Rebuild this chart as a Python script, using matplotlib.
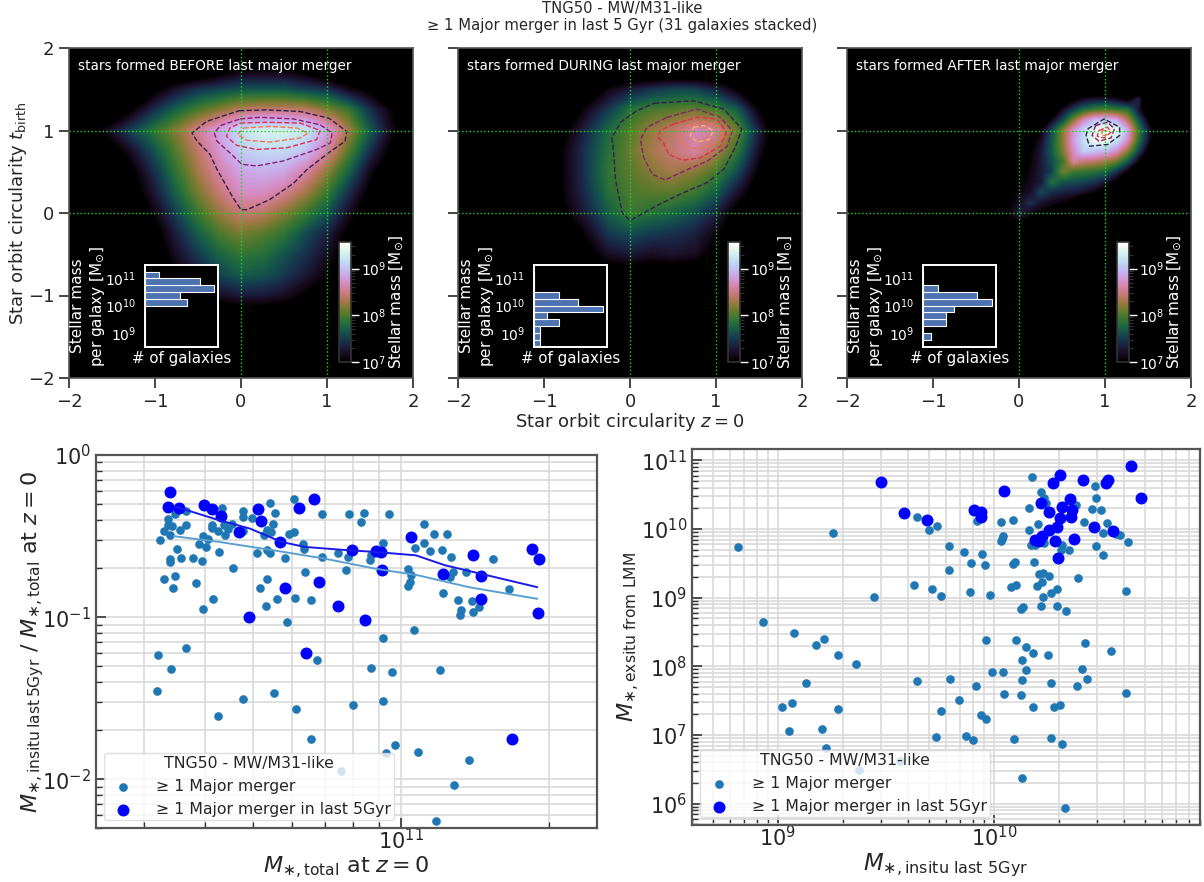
import numpy as np
import matplotlib
matplotlib.use("Agg")
import matplotlib.pyplot as plt
from matplotlib.colors import Normalize
from matplotlib.ticker import NullLocator

W, H = 1204, 882

# log10 stellar mass on a regular grid, top row y=2, bottom row y=-2, x from -2 to 2
before_grid = [
    [6.5]*17,
    [6.5,6.5,6.5,6.5,6.5,6.5,6.6,6.8,7.0,7.0,7.0,6.85,6.6,6.5,6.5,6.5,6.5],
    [6.5,6.5,6.5,6.5,6.95,7.25,7.45,7.55,7.65,7.65,7.65,7.55,7.45,7.15,6.95,6.5,6.5],
    [6.5,6.5,6.6,7.05,7.45,7.75,8.0,8.2,8.4,8.45,8.45,8.4,8.2,7.95,7.45,7.05,6.6],
    [6.5,6.85,7.25,7.6,7.9,8.2,8.55,8.85,9.2,9.35,9.35,9.25,8.85,8.3,7.7,7.15,6.8],
    [6.5,6.5,6.85,7.25,7.65,8.05,8.4,8.75,9.05,9.15,9.15,9.0,8.6,8.05,7.45,6.95,6.5],
    [6.5,6.5,6.5,7.0,7.45,7.9,8.3,8.6,8.85,8.9,8.85,8.6,8.25,7.75,7.15,6.7,6.5],
    [6.5,6.5,6.5,6.85,7.3,7.75,8.15,8.45,8.7,8.7,8.55,8.3,7.95,7.45,6.95,6.5,6.5],
    [6.5,6.5,6.5,6.7,7.1,7.55,7.95,8.25,8.45,8.4,8.2,7.95,7.65,7.2,6.75,6.5,6.5],
    [6.5,6.5,6.5,6.5,6.9,7.35,7.7,8.0,8.15,8.05,7.9,7.6,7.35,6.95,6.6,6.5,6.5],
    [6.5,6.5,6.5,6.5,6.8,7.2,7.5,7.75,7.9,7.85,7.65,7.45,7.2,6.85,6.5,6.5,6.5],
    [6.5,6.5,6.5,6.5,6.6,7.05,7.3,7.55,7.7,7.65,7.5,7.3,7.05,6.7,6.5,6.5,6.5],
    [6.5,6.5,6.5,6.5,6.5,6.8,7.0,7.2,7.3,7.3,7.2,7.0,6.8,6.5,6.5,6.5,6.5],
    [6.5,6.5,6.5,6.5,6.5,6.5,6.6,6.7,6.75,6.75,6.7,6.55,6.5,6.5,6.5,6.5,6.5],
    [6.5]*17,
    [6.5]*17,
    [6.5]*17,
]
during_grid = [
    [6.5]*17,
    [6.5]*17,
    [6.5,6.5,6.5,6.5,6.5,6.5,6.7,7.1,7.3,7.45,7.55,7.55,7.35,7.0,6.5,6.5,6.5],
    [6.5,6.5,6.5,6.5,6.5,6.7,7.15,7.5,7.85,8.0,8.05,8.1,8.0,7.7,7.05,6.5,6.5],
    [6.5,6.5,6.5,6.5,6.5,7.0,7.4,7.8,8.05,8.25,8.4,8.65,8.6,8.1,7.35,6.7,6.5],
    [6.5,6.5,6.5,6.5,6.7,7.1,7.5,7.85,8.1,8.3,8.45,8.6,8.35,7.9,7.2,6.6,6.5],
    [6.5,6.5,6.5,6.5,6.7,7.1,7.5,7.9,8.05,8.2,8.3,8.2,8.0,7.6,7.0,6.5,6.5],
    [6.5,6.5,6.5,6.5,6.7,7.1,7.45,7.85,8.0,8.05,8.05,7.95,7.7,7.25,6.8,6.5,6.5],
    [6.5,6.5,6.5,6.5,6.5,7.0,7.35,7.7,7.95,7.85,7.75,7.6,7.35,6.9,6.5,6.5,6.5],
    [6.5,6.5,6.5,6.5,6.5,6.75,7.1,7.5,7.6,7.5,7.45,7.35,7.1,6.7,6.5,6.5,6.5],
    [6.5,6.5,6.5,6.5,6.5,6.5,6.9,7.2,7.3,7.2,7.25,7.2,6.9,6.5,6.5,6.5,6.5],
    [6.5,6.5,6.5,6.5,6.5,6.5,6.5,6.75,6.85,6.75,6.75,6.75,6.5,6.5,6.5,6.5,6.5],
    [6.5]*17,
    [6.5]*17,
    [6.5]*17,
    [6.5]*17,
    [6.5]*17,
]
# finer patch for the compact panel: y from 1.5 to -0.25, x from -0.5 to 1.75, step 0.125
after_grid = [
    [6.5]*19,
    [6.5,6.5,6.5,6.5,6.5,6.5,6.5,6.5,6.6,7.0,7.2,7.3,7.3,7.2,7.0,7.4,6.5,6.5,6.5],
    [6.5,6.5,6.5,6.5,6.5,6.5,6.5,6.7,7.2,7.55,7.85,8.0,8.05,7.95,7.9,7.3,6.6,6.5,6.5],
    [6.5,6.5,6.5,6.5,6.5,6.5,6.6,7.15,7.6,8.2,8.7,9.0,9.05,8.9,8.4,7.7,7.0,6.5,6.5],
    [6.5,6.5,6.5,6.5,6.5,6.5,7.1,7.6,8.2,8.75,9.15,9.5,9.6,9.5,8.9,8.0,7.3,6.6,6.5],
    [6.5,6.5,6.5,6.5,6.5,6.9,7.2,7.7,8.2,8.8,9.2,9.5,9.5,9.2,8.7,7.9,7.2,6.5,6.5],
    [6.5,6.5,6.5,6.5,6.5,7.0,7.3,7.7,8.15,8.7,9.1,9.0,8.95,8.7,8.25,7.6,6.9,6.5,6.5],
    [6.5,6.5,6.5,6.5,6.8,7.05,7.3,7.6,7.95,8.6,8.45,8.4,8.3,8.1,7.7,7.1,6.5,6.5,6.5],
    [6.5,6.5,6.5,6.5,6.9,7.1,7.3,7.55,8.15,7.95,7.9,7.85,7.75,7.45,7.05,6.5,6.5,6.5,6.5],
    [6.5,6.5,6.5,6.8,7.0,7.15,7.3,7.85,7.65,7.6,7.55,7.45,7.25,6.95,6.5,6.5,6.5,6.5,6.5],
    [6.5,6.5,6.5,6.9,7.1,7.2,7.6,7.4,7.35,7.3,7.2,7.05,6.85,6.5,6.5,6.5,6.5,6.5,6.5],
    [6.5,6.5,6.8,7.0,7.2,7.45,7.25,7.15,7.05,6.9,6.6,6.5,6.5,6.5,6.5,6.5,6.5,6.5,6.5],
    [6.5,6.5,6.85,7.05,7.35,7.15,7.0,6.85,6.5,6.5,6.5,6.5,6.5,6.5,6.5,6.5,6.5,6.5,6.5],
    [6.5,6.5,6.5,6.9,7.0,6.85,6.5,6.5,6.5,6.5,6.5,6.5,6.5,6.5,6.5,6.5,6.5,6.5,6.5],
    [6.5]*19,
]

# contour levels, outermost first
before_contours = [
    ([-.02,.30,.69,1.02,1.23,1.21,1.02,.77,.61,.33,.07,0,-.09,-.28,-.36,-.51,-.57,-.40,-.17,-.02],
     [1.24,1.25,1.23,1.15,.99,.87,.73,.53,.36,.16,.04,.04,.18,.53,.71,.87,.97,1.11,1.19,1.24]),
    ([-.01,.22,.61,.92,1.06,1.04,.88,.49,.18,.01,-.13,-.28,-.31,-.24,-.01],
     [1.14,1.16,1.14,1.07,.97,.85,.77,.63,.57,.59,.73,.87,.97,1.06,1.14]),
    ([-.01,.30,.69,.92,.88,.53,.18,-.05,-.17,-.13,-.01],
     [1.09,1.10,1.09,1.0,.89,.79,.77,.82,.93,1.03,1.09]),
    ([.03,.34,.65,.78,.69,.34,.07,-.04,.03],
     [1.03,1.05,1.03,.97,.91,.86,.88,.95,1.03]),
]
during_contours = [
    ([.28,.74,1.09,1.30,1.23,1.09,.90,.63,.35,.16,0,-.09,-.17,-.19,-.21,-.11,.08,.28],
     [1.33,1.36,1.26,1.02,.81,.53,.37,.25,.11,0,-.09,0,.41,.73,.91,1.10,1.24,1.33]),
    ([.43,.78,1.05,1.19,1.13,.90,.63,.41,.26,.16,.12,.20,.43],
     [1.16,1.26,1.16,1.00,.81,.63,.51,.40,.47,.67,.89,1.04,1.16]),
    ([.51,.78,1.01,1.12,1.05,.82,.61,.45,.39,.33,.35,.51],
     [1.08,1.16,1.14,.98,.81,.67,.64,.71,.85,.91,1.00,1.08]),
    ([.66,.86,1.03,1.09,.97,.78,.63,.57,.66],
     [1.06,1.11,1.04,.94,.83,.78,.81,.94,1.06]),
    ([.74,.86,.97,.92,.78,.70,.74],
     [1.04,1.06,1.00,.89,.86,.94,1.04]),
]
after_contours = [
    ([.80,.99,1.17,1.17,1.03,.82,.78,.80], [1.02,1.14,1.04,.94,.83,.81,.94,1.02]),
    ([.89,1.03,1.11,1.07,.93,.85,.89], [1.06,1.10,1.02,.91,.87,.94,1.06]),
    ([.93,1.03,1.07,.99,.91,.93], [1.00,1.04,.98,.91,.93,1.00]),
    ([.97,1.02,1.01,.96,.97], [1.0,1.0,.94,.94,1.0]),
]
contour_colors = ["#33204f", "#8c1f6e", "#e0304f", "#f4734f", "#fbb25c"]

# galaxies per log10 mass bin
hist_edges = [8.5,8.75,9.0,9.25,9.5,9.75,10.0,10.25,10.5,10.75,11.0,11.25]
before_counts = [0,0,0,0,0,0,6,5,10,8,2]
during_counts = [1,1,1,4,2,11,7,4,0,0,0]
after_counts = [0,1,0,3,3,4,9,7,2,0,0]

panel_titles = ["stars formed BEFORE last major merger", "stars formed DURING last major merger",
                "stars formed AFTER last major merger"]

# log10 total mass and log10 mass ratio
total_all = [10.505,10.507,10.533,10.564,10.678,10.629,10.741,10.787,10.816,10.830,10.903,10.939,10.981,10.964,
    10.987,10.970,11.035,11.080,11.027,10.964,10.878,11.107,11.138,11.071,10.768,10.597,10.618,10.537,10.518,10.541,
    10.584,10.659,10.713,10.727,10.725,10.747,10.785,10.817,10.804,10.888,10.764,10.734,10.728,10.707,10.631,10.596,
    10.578,10.552,10.530,10.531,10.545,10.510,10.518,10.530,10.550,10.564,10.534,10.526,10.527,10.541,10.563,10.637,
    10.678,10.678,10.697,10.733,10.744,10.739,10.783,10.840,10.894,10.924,10.919,10.975,10.773,10.782,10.735,10.722,
    10.728,10.678,10.657,10.649,10.643,10.640,10.629,10.615,10.615,10.608,10.598,10.603,10.589,10.800,10.803,10.839,
    10.871,10.892,10.937,10.939,10.964,11.047,11.067,11.094,11.047,11.029,11.059,11.084,11.101,11.187,11.013,11.020,
    11.018,11.013,11.132,11.105,11.099,11.085,11.115,11.143,11.220,11.121,11.119,11.146,11.158]
ratio_all = [-1.456,-1.231,-1.320,-1.190,-1.503,-1.610,-1.468,-1.567,-1.755,-1.266,-1.544,-1.311,-1.338,-1.518,
    -1.786,-1.841,-1.835,-1.326,-1.078,-1.128,-1.949,-2.037,-1.883,-2.260,-1.031,-.953,-.889,-.823,-.765,-.749,
    -.792,-.695,-.819,-.767,-.932,-.889,-.880,-.895,-.724,-.707,-.635,-.604,-.584,-.606,-.598,-.656,
    -.633,-.637,-.643,-.660,-.579,-.526,-.470,-.491,-.462,-.433,-.435,-.429,-.396,-.361,-.346,-.330,
    -.344,-.384,-.388,-.299,-.355,-.425,-.274,-.365,-.367,-.359,-.412,-.365,-.487,-.478,-.472,-.495,
    -.464,-.468,-.423,-.454,-.495,-.433,-.466,-.450,-.429,-.520,-.501,-.565,-.546,-.548,-.577,-.627,
    -.604,-.627,-.645,-.614,-.542,-.425,-.489,-.485,-.544,-.575,-.592,-.586,-.627,-.643,-.705,-.738,
    -.784,-.810,-.724,-.724,-.753,-.852,-.897,-.903,-.829,-.957,-.986,-.971,-.936]
total_recent = [10.530,10.526,10.549,10.599,10.616,10.635,10.709,10.716,10.671,10.754,10.793,10.824,10.900,10.949,
    10.960,10.961,10.834,10.764,10.872,10.690,10.926,10.807,11.021,11.146,11.086,11.162,11.162,11.265,11.280,11.278,11.226]
ratio_recent = [-.229,-.320,-.326,-.311,-.332,-.377,-.334,-.408,-.476,-.538,-.330,-.272,-.586,-.592,
    -.596,-.707,-.786,-.823,-.932,-1.000,-1.017,-1.223,-.503,-.619,-.736,-.749,-.887,-.581,-.643,-.975,-1.749]

median_recent_x = [10.543,10.630,10.693,10.757,10.804,10.876,10.947,11.030,11.089,11.161,11.276]
median_recent_y = [-.320,-.402,-.454,-.536,-.567,-.584,-.598,-.619,-.680,-.732,-.815]
median_all_x = [10.539,10.630,10.741,10.844,10.947,11.034,11.137,11.276]
median_all_y = [-.501,-.536,-.588,-.639,-.701,-.742,-.815,-.887]

# log10 insitu mass formed in last 5 Gyr and log10 exsitu mass from the last major merger
insitu_all = [8.816,9.256,8.933,9.074,9.214,9.178,9.277,9.360,9.129,9.021,9.064,9.276,9.051,9.203,9.223,9.375,9.567,
    9.447,9.629,9.645,9.698,9.737,9.714,9.756,9.645,9.795,9.838,9.915,9.755,9.940,9.965,9.730,9.869,9.905,9.793,
    9.793,9.861,9.896,9.947,9.959,9.889,9.982,9.965,9.990,10.041,10.048,10.127,10.131,10.147,10.131,10.149,10.101,
    10.180,10.251,10.265,10.179,10.278,10.308,10.387,10.433,10.408,10.421,10.543,10.610,10.094,10.265,10.315,10.129,
    10.327,9.922,10.032,10.088,10.041,10.037,10.035,10.090,10.096,10.080,10.101,10.198,10.223,10.187,10.210,10.226,
    10.256,10.225,10.265,10.292,10.216,10.293,10.334,10.126,10.133,10.391,10.610,10.346,10.475,10.507,10.619,10.505,
    10.564,10.583,10.525,10.419,10.498,10.454,10.472,10.467,10.380,10.175,10.216,10.233,10.239,10.161,10.203,10.164,
    10.170,10.191,10.233,10.313,10.309]
exsitu_all = [9.740,9.940,8.646,8.490,8.403,8.305,8.164,8.038,7.761,7.415,7.464,7.381,7.060,7.089,6.807,6.496,6.627,
    9.006,9.186,10.173,9.979,10.037,9.132,9.030,7.785,7.809,7.517,7.717,7.357,7.294,7.240,6.978,6.992,6.934,9.750,
    9.409,9.658,9.502,9.633,9.473,9.088,9.040,8.378,7.916,7.921,7.595,7.581,7.804,7.950,8.087,8.276,8.388,
    8.198,8.169,7.751,7.406,7.406,7.430,7.717,7.814,7.965,8.335,8.218,7.610,6.939,6.953,6.875,6.374,
    5.932,10.110,10.105,10.134,9.901,9.847,9.818,9.492,9.521,9.152,9.186,9.166,9.225,9.521,9.341,9.366,
    9.312,9.006,9.074,9.127,8.874,8.884,8.802,8.836,8.870,9.293,9.098,9.696,9.750,9.628,9.813,9.945,
    9.920,9.910,10.081,10.105,10.280,10.295,10.450,10.625,10.348,10.757,10.533,10.455,10.373,10.309,10.066,9.979,
    9.769,9.765,9.789,9.765,9.692]
insitu_recent = [9.477,9.585,9.689,9.908,9.940,9.940,10.046,10.216,10.253,10.274,10.304,10.350,10.414,10.518,10.527,
    10.636,10.680,10.313,10.362,10.357,10.308,10.463,10.550,10.292,10.256,10.223,10.209,10.191,10.285,10.373,10.299]
exsitu_recent = [10.684,10.231,10.134,10.275,10.241,10.178,10.557,10.382,10.246,10.674,10.781,10.441,10.713,10.664,10.713,
    10.912,10.450,10.324,10.270,10.168,10.154,10.032,9.974,10.032,9.983,9.896,9.823,9.838,9.823,9.852,9.580]

plt.rcParams["font.family"] = "DejaVu Sans"
plt.rcParams["mathtext.fontset"] = "dejavusans"
plt.rcParams["text.color"] = "#262626"
plt.rcParams["axes.labelcolor"] = "#262626"
plt.rcParams["xtick.color"] = "#262626"
plt.rcParams["ytick.color"] = "#262626"

fig = plt.figure(figsize=(W / 100, H / 100), dpi=100)


def px_axes(x0, y0, x1, y1):
    return fig.add_axes([x0 / W, 1 - y1 / H, (x1 - x0) / W, (y1 - y0) / H])


def draw_panel(x0, grid, extent, contours, counts, title, first):
    ax = px_axes(x0, 48, x0 + 344, 378)
    ax.set_facecolor("black")
    norm = Normalize(7, 9.57)
    im = ax.imshow(np.array(grid), cmap="cubehelix", norm=norm, extent=extent, origin="upper",
                   interpolation="bilinear", aspect="auto")
    for (cx, cy), col in zip(contours, contour_colors):
        ax.plot(cx, cy, color=col, ls="--", lw=1)
    for v in [0, 1]:
        ax.axvline(v, color="#22d02a", ls=":", lw=1.0)
        ax.axhline(v, color="#22d02a", ls=":", lw=1.0)
    ax.set_xlim(-2, 2)
    ax.set_ylim(-2, 2)
    ax.set_xticks([-2, -1, 0, 1, 2])
    ax.set_yticks([-2, -1, 0, 1, 2])
    ax.tick_params(length=7, width=1.2, labelsize=13, labelleft=first)
    for s in ax.spines.values():
        s.set_color("#555555")
        s.set_linewidth(1.2)
    ax.text(0.025, 0.945, title, color="white", fontsize=9.8, transform=ax.transAxes, va="center")

    # colorbar
    cax = px_axes(x0 + 270, 242, x0 + 282, 362)
    cb = fig.colorbar(im, cax=cax)
    cb.set_ticks([7, 8, 9])
    cb.set_ticklabels(["$10^{7}$", "$10^{8}$", "$10^{9}$"])
    minor = [n + np.log10(k) for n in [7, 8, 9] for k in range(2, 10) if n + np.log10(k) < 9.57]
    cax.set_yticks(minor, minor=True)
    cax.tick_params(which="major", colors="white", length=6, width=1, labelsize=10, pad=1)
    cax.tick_params(which="minor", color="#333333", length=3, width=0.8)
    cb.outline.set_edgecolor("#333333")
    cb.outline.set_linewidth(1.2)
    cax.set_ylabel(r"Stellar mass [M$_{\odot}$]", color="white", fontsize=11, labelpad=1)

    # histogram inset
    hax = px_axes(x0 + 76, 265, x0 + 149, 347)
    hax.set_facecolor("black")
    lo = 10.0 ** np.array(hist_edges[:-1])
    hi = 10.0 ** np.array(hist_edges[1:])
    hax.barh(lo, counts, height=hi - lo, align="edge", color="#4c72b0", edgecolor="white", linewidth=0.8)
    hax.set_yscale("log")
    hax.set_ylim(10 ** 8.476, 10 ** 11.49)
    hax.set_xlim(0, max(counts) * 1.055)
    hax.set_yticks([1e9, 1e10, 1e11])
    hax.yaxis.set_minor_locator(NullLocator())
    hax.set_xticks([])
    hax.tick_params(axis="y", colors="white", length=0, labelsize=10, pad=6)
    hax.set_xlabel("# of galaxies", color="white", fontsize=10.8, labelpad=3)
    hax.set_ylabel("Stellar mass\nper galaxy [M$_{\\odot}$]", color="white", fontsize=11, labelpad=-1, linespacing=1.2)
    for s in hax.spines.values():
        s.set_color("white")
        s.set_linewidth(1.4)
    return ax


coarse = (-2.125, 2.125, -2.125, 2.125)
patch = (-0.5625, 1.8125, -0.3125, 1.5625)
ax1 = draw_panel(69, before_grid, coarse, before_contours, before_counts, panel_titles[0], True)
ax2 = draw_panel(458, during_grid, coarse, during_contours, during_counts, panel_titles[1], False)
ax3 = draw_panel(847, after_grid, patch, after_contours, after_counts, panel_titles[2], False)
ax1.set_ylabel(r"Star orbit circularity $t_{\rm birth}$", fontsize=13, labelpad=-1)
ax2.set_xlabel(r"Star orbit circularity $z=0$", fontsize=13, labelpad=0)
fig.text(622 / W, 1 - 17 / H, "TNG50 - MW/M31-like\n\u2265 1 Major merger in last 5 Gyr (31 galaxies stacked)",
         ha="center", va="center", fontsize=10.6, linespacing=1.2)


def style_scatter(ax):
    ax.set_xscale("log")
    ax.set_yscale("log")
    ax.grid(True, which="both", color="#d9d9d9", lw=1.2)
    ax.set_axisbelow(True)
    ax.tick_params(which="both", direction="in", color="#333333")
    ax.tick_params(which="major", length=7, width=1.2, labelsize=15)
    ax.tick_params(which="minor", length=4, width=1, labelbottom=False, labelleft=False)
    ax.tick_params(axis="x", which="major", pad=0)
    for s in ax.spines.values():
        s.set_color("#555555")
        s.set_linewidth(1.6)


def add_points(ax, xa, ya, xr, yr):
    ax.scatter(10.0 ** np.array(xa), 10.0 ** np.array(ya), s=27, color="#1f77b4", label="\u2265 1 Major merger")
    ax.scatter(10.0 ** np.array(xr), 10.0 ** np.array(yr), s=58, color="blue",
               label="\u2265 1 Major merger in last 5Gyr")
    leg = ax.legend(title="TNG50 - MW/M31-like", loc="lower left", fontsize=11.3, title_fontsize=11.3,
                    framealpha=0.8, borderpad=0.2, handletextpad=1.1)
    leg.get_frame().set_edgecolor("#d8d8d8")


ax4 = px_axes(96, 455, 597, 828)
style_scatter(ax4)
ax4.plot(10.0 ** np.array(median_all_x), 10.0 ** np.array(median_all_y), color="#5b9fd0", lw=1.4)
ax4.plot(10.0 ** np.array(median_recent_x), 10.0 ** np.array(median_recent_y), color="#1a1ae6", lw=1.4)
add_points(ax4, total_all, ratio_all, total_recent, ratio_recent)
ax4.set_xlim(2.4e10, 2.5e11)
ax4.set_ylim(5e-3, 1)
ax4.set_xlabel(r"$M_{\ast,\rm total}$ at $z=0$", fontsize=16, labelpad=1)
ax4.set_ylabel(r"$M_{\ast,\rm insitu\,last\,5Gyr}$ / $M_{\ast,\rm total}$ at $z=0$", fontsize=16, labelpad=-3)

ax5 = px_axes(692, 449, 1200, 825)
style_scatter(ax5)
add_points(ax5, insitu_all, exsitu_all, insitu_recent, exsitu_recent)
ax5.set_xlim(4e8, 9e10)
ax5.set_ylim(4.9e5, 1.46e11)
ax5.set_xlabel(r"$M_{\ast,\rm insitu\ last\ 5Gyr}$", fontsize=16.5, labelpad=1)
ax5.set_ylabel(r"$M_{\ast,\rm exsitu\ from\ LMM}$", fontsize=16, labelpad=-1)

fig.savefig("out.png", dpi=100)
